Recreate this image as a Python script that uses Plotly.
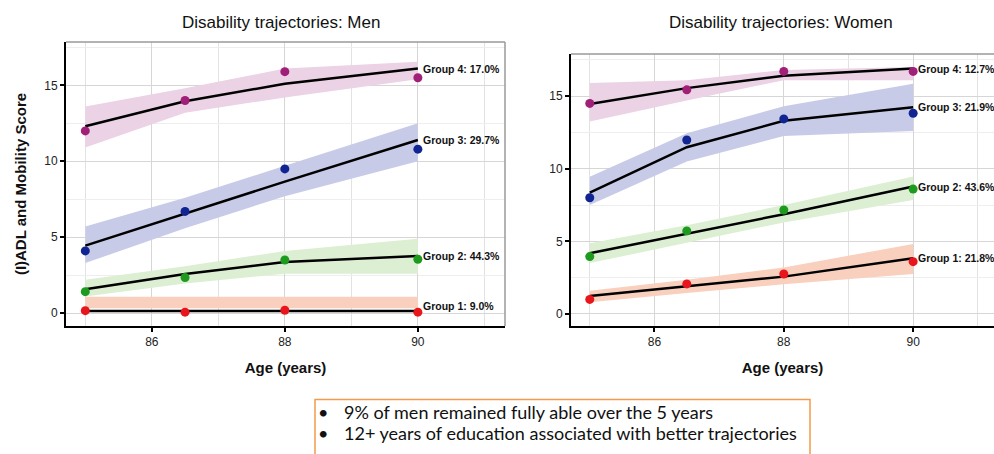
import plotly.graph_objects as go

# Ages at which the trajectories are evaluated
ages = [85, 86.5, 88, 90]

# ---- Men: observed means, fitted trajectory, confidence band ----
men_g1_obs = [0.17, 0.07, 0.20, 0.07]
men_g1_fit = [0.15, 0.15, 0.15, 0.15]
men_g1_lo = [0.32, 0.32, 0.32, 0.32]
men_g1_hi = [1.08, 1.08, 1.08, 1.08]

men_g2_obs = [1.42, 2.35, 3.50, 3.55]
men_g2_fit = [1.58, 2.58, 3.37, 3.77]
men_g2_lo = [1.10, 1.95, 2.60, 2.60]
men_g2_hi = [2.20, 3.10, 4.10, 4.90]

men_g3_obs = [4.10, 6.70, 9.50, 10.80]
men_g3_fit = [4.45, 6.55, 8.66, 11.40]
men_g3_lo = [3.30, 5.60, 7.70, 10.00]
men_g3_hi = [5.70, 7.60, 9.70, 12.50]

men_g4_obs = [12.0, 14.0, 15.9, 15.5]
men_g4_fit = [12.3, 13.95, 15.1, 16.1]
men_g4_lo = [10.9, 13.2, 14.2, 15.4]
men_g4_hi = [13.6, 14.8, 16.1, 16.55]

# ---- Women ----
wom_g1_obs = [1.00, 2.07, 2.75, 3.60]
wom_g1_fit = [1.24, 1.90, 2.57, 3.83]
wom_g1_lo = [0.80, 1.45, 2.05, 2.75]
wom_g1_hi = [1.60, 2.35, 3.20, 4.82]

wom_g2_obs = [3.95, 5.72, 7.16, 8.60]
wom_g2_fit = [4.18, 5.50, 6.87, 8.77]
wom_g2_lo = [3.50, 4.90, 6.30, 7.85]
wom_g2_hi = [4.87, 6.10, 7.50, 9.46]

wom_g3_obs = [8.00, 11.98, 13.43, 13.82]
wom_g3_fit = [8.35, 11.48, 13.30, 14.23]
wom_g3_lo = [7.50, 10.50, 12.25, 12.60]
wom_g3_hi = [9.45, 12.45, 14.30, 15.85]

wom_g4_obs = [14.50, 15.43, 16.70, 16.70]
wom_g4_fit = [14.45, 15.55, 16.40, 16.90]
wom_g4_lo = [13.25, 14.70, 16.10, 16.10]
wom_g4_hi = [15.90, 16.10, 16.80, 17.00]

men_labels = ["Group 1: 9.0%", "Group 2: 44.3%", "Group 3: 29.7%", "Group 4: 17.0%"]
wom_labels = ["Group 1: 21.8%", "Group 2: 43.6%", "Group 3: 21.9%", "Group 4: 12.7%"]

panel_titles = ["Disability trajectories: Men", "Disability trajectories: Women"]
x_title = "Age (years)"
y_title = "(I)ADL and Mobility Score"
x_ticks = [86, 88, 90]
y_ticks = [0, 5, 10, 15]

notes = ["9% of men remained fully able over the 5 years",
         "12+ years of education associated with better trajectories"]

point_colors = ["#e8161c", "#1e9a1e", "#102592", "#a01f78"]
band_colors = ["#f9cfbd", "#dcefd3", "#c7cbe8", "#ebd2e5"]

men = [
    (men_g1_obs, men_g1_fit, men_g1_lo, men_g1_hi),
    (men_g2_obs, men_g2_fit, men_g2_lo, men_g2_hi),
    (men_g3_obs, men_g3_fit, men_g3_lo, men_g3_hi),
    (men_g4_obs, men_g4_fit, men_g4_lo, men_g4_hi),
]
women = [
    (wom_g1_obs, wom_g1_fit, wom_g1_lo, wom_g1_hi),
    (wom_g2_obs, wom_g2_fit, wom_g2_lo, wom_g2_hi),
    (wom_g3_obs, wom_g3_fit, wom_g3_lo, wom_g3_hi),
    (wom_g4_obs, wom_g4_fit, wom_g4_lo, wom_g4_hi),
]

W, H = 994, 454
FONT = "Liberation Sans, Arial, sans-serif"

fig = go.Figure()


def add_panel(groups, xa, ya):
    # bands first, then fitted lines, then observed points
    for (obs, fit, lo, hi), bc in zip(groups, band_colors):
        fig.add_trace(go.Scatter(
            x=ages + ages[::-1], y=hi + lo[::-1], fill="toself",
            fillcolor=bc, line=dict(width=0), mode="lines",
            hoverinfo="skip", showlegend=False, xaxis=xa, yaxis=ya))
    for (obs, fit, lo, hi) in groups:
        fig.add_trace(go.Scatter(
            x=ages, y=fit, mode="lines", line=dict(color="black", width=2.5),
            showlegend=False, xaxis=xa, yaxis=ya))
    for (obs, fit, lo, hi), pc in zip(groups, point_colors):
        fig.add_trace(go.Scatter(
            x=ages, y=obs, mode="markers", marker=dict(color=pc, size=9),
            showlegend=False, xaxis=xa, yaxis=ya, cliponaxis=False))


add_panel(men, "x", "y")
add_panel(women, "x2", "y2")

# panel geometry in pixels: (left, right, top, bottom)
panels = [(66, 505, 42, 326), (571, 994, 54, 326)]
x_ranges = [[84.71, 91.31], [84.71, 91.25]]
y_ranges = [[-0.84, 17.85], [-0.83, 17.9]]


def axis_common():
    return dict(showgrid=True, gridcolor="#d6d6d6", gridwidth=1,
                zeroline=False, showline=True, linecolor="black", linewidth=2,
                ticks="outside", ticklen=4, tickwidth=1.5, tickcolor="black",
                tickfont=dict(family=FONT, size=12, color="#222"),
                title_font=dict(family=FONT, size=15, color="#111"))


layout_axes = {}
for i, ((l, r, t, b), xr, yr) in enumerate(zip(panels, x_ranges, y_ranges)):
    sfx = "" if i == 0 else str(i + 1)
    xa = axis_common()
    xa.update(domain=[l / W, r / W], range=xr, tickvals=x_ticks,
              anchor="y" + sfx,
              minor=dict(dtick=1, tick0=85, showgrid=True, gridcolor="#e2e2e2", ticks=""),
              title=dict(text="<b>" + x_title + "</b>", standoff=14))
    ya = axis_common()
    ya.update(domain=[1 - b / H, 1 - t / H], range=yr, tickvals=y_ticks,
              anchor="x" + sfx,
              minor=dict(dtick=2.5, tick0=0, showgrid=True, gridcolor="#eeeeee", ticks=""))
    if i == 0:
        ya.update(title=dict(text="<b>" + y_title + "</b>", standoff=14))
    layout_axes["xaxis" + sfx] = xa
    layout_axes["yaxis" + sfx] = ya

shapes = []
# light frame on top and right of each plot area
for (l, r, t, b) in panels:
    shapes.append(dict(type="line", xref="paper", yref="paper",
                       x0=l / W, x1=r / W, y0=1 - t / H, y1=1 - t / H,
                       line=dict(color="#9a9a9a", width=1.5)))
    if r < W:
        shapes.append(dict(type="line", xref="paper", yref="paper",
                           x0=r / W, x1=r / W, y0=1 - t / H, y1=1 - b / H,
                           line=dict(color="#9a9a9a", width=1.5)))

# notes box
shapes.append(dict(type="rect", xref="paper", yref="paper",
                   x0=315 / W, x1=810 / W, y0=-0.05, y1=1 - 399.5 / H,
                   line=dict(color="#f39a4c", width=1.5), fillcolor="rgba(0,0,0,0)"))

annotations = []
for i, ((l, r, t, b), title) in enumerate(zip(panels, panel_titles)):
    cx = [281, 781][i]
    annotations.append(dict(text=title, xref="paper", yref="paper",
                            x=cx / W, y=1 - 22 / H, xanchor="center", yanchor="middle",
                            showarrow=False, font=dict(family=FONT, size=17, color="#111")))

# group labels at the end of each fitted trajectory
for i, (groups, labels) in enumerate([(men, men_labels), (women, wom_labels)]):
    sfx = "" if i == 0 else str(i + 1)
    for j, ((obs, fit, lo, hi), lab) in enumerate(zip(groups, labels)):
        shift = 5 if (i == 0 and j == 0) else 0
        annotations.append(dict(text="<b>" + lab + "</b>", x=ages[-1], y=fit[-1],
                                xref="x" + sfx, yref="y" + sfx,
                                xanchor="left", yanchor="middle", xshift=3, yshift=shift,
                                showarrow=False,
                                font=dict(family=FONT, size=10.5, color="#111")))

NOTE_FONT = "Lato, Carlito, Calibri, sans-serif"
for k, (txt, yc) in enumerate(zip(notes, [411.7, 432.7])):
    annotations.append(dict(text="•", xref="paper", yref="paper",
                            x=323 / W, y=1 - yc / H, xanchor="center", yanchor="middle",
                            showarrow=False, font=dict(family=NOTE_FONT, size=18, color="#111")))
    annotations.append(dict(text=txt, xref="paper", yref="paper",
                            x=341.5 / W, y=1 - yc / H, xanchor="left", yanchor="middle",
                            showarrow=False, font=dict(family=NOTE_FONT, size=18, color="#111")))

fig.update_layout(
    width=W, height=H, margin=dict(l=0, r=0, t=0, b=0),
    paper_bgcolor="white", plot_bgcolor="white",
    showlegend=False, shapes=shapes, annotations=annotations,
    **layout_axes,
)

fig.write_html("out.html")
